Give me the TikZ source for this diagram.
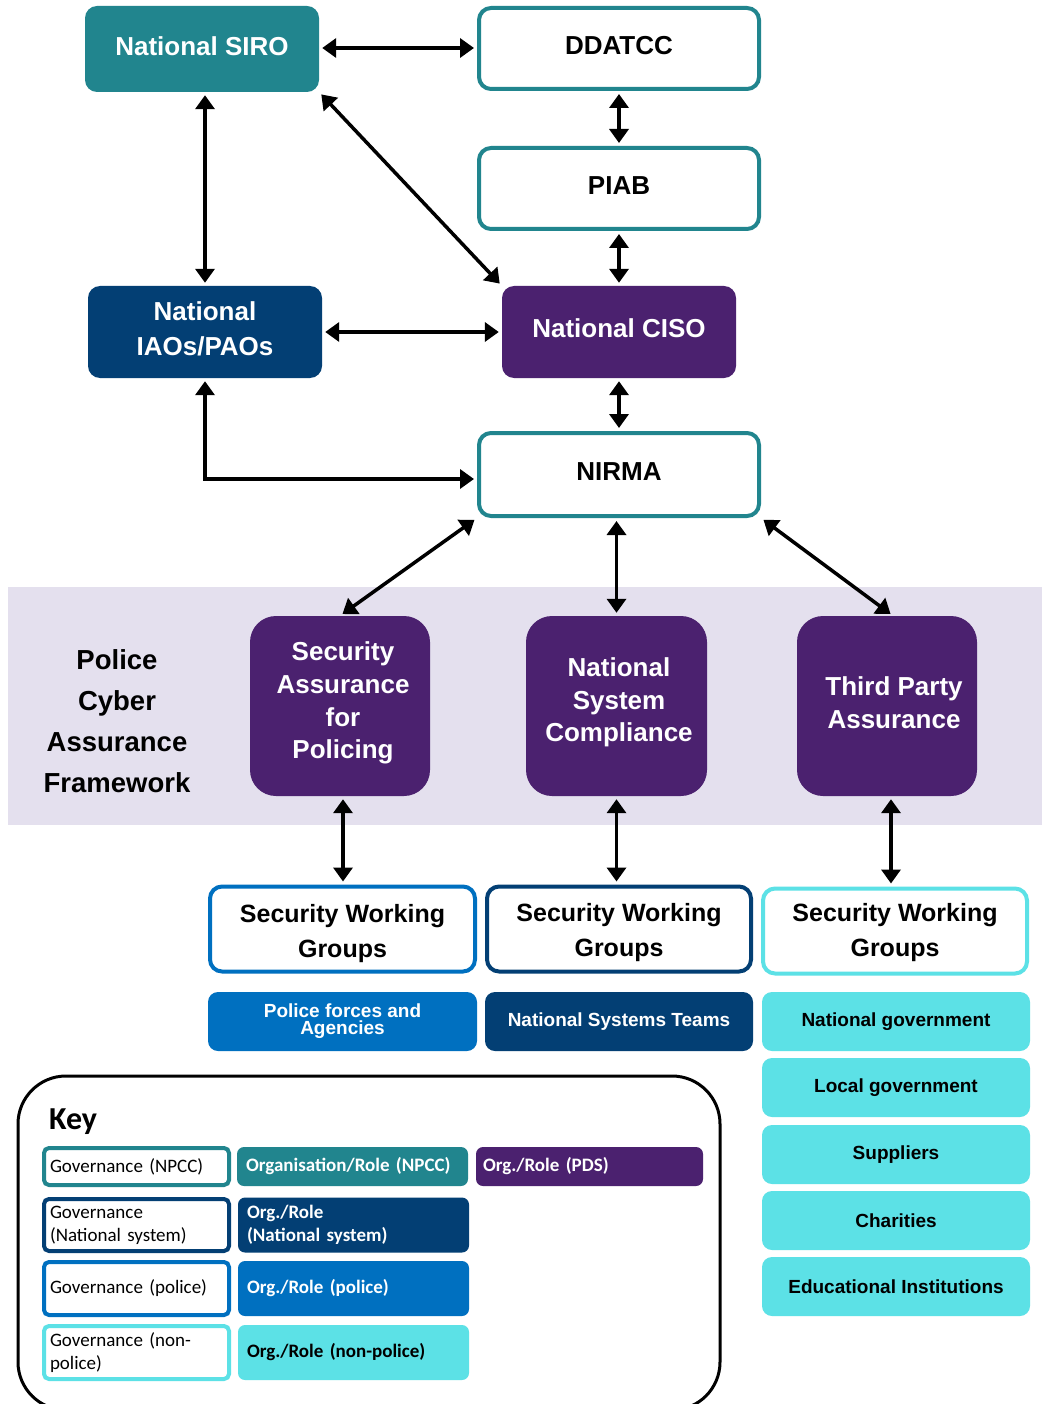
\documentclass[tikz,border=0pt]{standalone}
\usepackage{fontspec}
\setmainfont{Liberation Sans}
\newfontfamily\keyfont{Carlito}
\usetikzlibrary{arrows.meta}
\definecolor{cteal}{HTML}{21858E}
\definecolor{cnavy}{HTML}{033F74}
\definecolor{cpurple}{HTML}{4B216F}
\definecolor{cblue}{HTML}{0070C0}
\definecolor{ccyan}{HTML}{5CE1E6}
\definecolor{clav}{HTML}{E4E0EE}
\tikzset{
  x=1pt, y=-1pt,
  box/.style={rounded corners=12pt, inner sep=0pt},
  govbox/.style={box, draw=#1, line width=4pt, fill=white},
  orgbox/.style={box, fill=#1},
  txt/.style={align=center, inner sep=0pt, text=#1, font=\bfseries\fontsize{26}{35}\selectfont},
  bigbox/.style={box, rounded corners=26pt, fill=cpurple,
    minimum width=180pt, minimum height=180pt},
  bigtxt/.style={align=center, inner sep=0pt, text=white, font=\bfseries\fontsize{26}{32.7}\selectfont},
  swgtxt/.style={align=center, inner sep=0pt, text=black, font=\bfseries\fontsize{25}{35}\selectfont},
  smallbox/.style={box, rounded corners=10pt, fill=#1, minimum width=268pt, minimum height=59pt,
    align=center, font=\bfseries\fontsize{19}{17}\selectfont},
  keygov/.style={rounded corners=5pt, draw=#1, line width=4pt, fill=white, inner sep=0pt,
    minimum width=185pt, align=left, text width=173pt,
    font=\keyfont\fontsize{19}{23}\selectfont},
  keyorg/.style={rounded corners=7pt, fill=#1, text=white, inner sep=0pt,
    minimum width=231pt, align=left, text width=213pt,
    font=\keyfont\bfseries\fontsize{19}{23}\selectfont},
  dbl/.style={line width=3.5pt, {Triangle[length=14pt,width=19pt]}-{Triangle[length=14pt,width=19pt]},
    shorten <=3pt, shorten >=3pt}
}
\begin{document}
\begin{tikzpicture}
\clip (0,0) rectangle (1042,1404);
\useasboundingbox (0,0) rectangle (1042,1404);
\fill[white] (0,0) rectangle (1042,1404);
% band
\fill[clav] (8,587) rectangle (1042,825);
% top nodes
\node[orgbox=cteal, minimum width=234pt, minimum height=86pt] (siro) at (202,49) {};
\node[txt=white] (sirot) at (202,46) {National SIRO};
\node[govbox=cteal, minimum width=280pt, minimum height=81pt] (ddatcc) at (619,48.5) {};
\node[txt=black] (ddatcct) at (619,46) {DDATCC};
\node[govbox=cteal, minimum width=280pt, minimum height=81pt] (piab) at (619,188.5) {};
\node[txt=black] (piabt) at (619,186) {PIAB};
\node[orgbox=cnavy, minimum width=234pt, minimum height=92pt] (iaos) at (205,332) {};
\node[txt=white] (iaost) at (205,329) {National\\IAOs/PAOs};
\node[orgbox=cpurple, minimum width=234pt, minimum height=92pt] (ciso) at (619,332) {};
\node[txt=white] (cisot) at (619,328.5) {National CISO};
\node[govbox=cteal, minimum width=280pt, minimum height=83pt] (nirma) at (619,474.5) {};
\node[txt=black] (nirmat) at (619,471.5) {NIRMA};
% framework label
\node[align=center, inner sep=0pt, font=\bfseries\fontsize{27.5}{41}\selectfont] (pcaf) at (117,721) {Police\\Cyber\\Assurance\\Framework};
% big purple boxes
\node[bigbox] (sap) at (340,706) {};
\node[bigtxt] (sapt) at (343,703) {Security\\Assurance\\for\\Policing};
\node[bigbox, minimum width=181pt] (nsc) at (616.5,706) {};
\node[bigtxt] (nsct) at (619,702.5) {National\\System\\Compliance};
\node[bigbox] (tpa) at (887,706) {};
\node[bigtxt] (tpat) at (894,702.5) {Third Party\\Assurance};
% security working groups
\node[govbox=cblue, minimum width=265pt, minimum height=85pt] (swg1) at (342.5,929) {};
\node[swgtxt] (swg1t) at (342.5,934) {Security Working\\Groups};
\node[govbox=cnavy, minimum width=264pt, minimum height=85pt] (swg2) at (619,929) {};
\node[swgtxt] (swg2t) at (619,933) {Security Working\\Groups};
\node[govbox=ccyan, minimum width=264pt, minimum height=85pt] (swg3) at (895,931) {};
\node[swgtxt] (swg3t) at (895,933) {Security Working\\Groups};
% small boxes
\node[smallbox=cblue, text=white, minimum width=269pt] (pfa) at (342.5,1021.5) {Police forces and\\Agencies};
\node[smallbox=cnavy, text=white] (nst) at (619,1021.5) {National Systems Teams};
\node[smallbox=ccyan, text=black] (ng) at (896,1021.5) {National government};
\node[smallbox=ccyan, text=black] (lg) at (896,1087.5) {Local government};
\node[smallbox=ccyan, text=black] (sup) at (896,1154.5) {Suppliers};
\node[smallbox=ccyan, text=black] (cha) at (896,1220.5) {Charities};
\node[smallbox=ccyan, text=black] (edu) at (896,1286.5) {Educational Institutions};
% key
\draw[line width=3pt, rounded corners=48pt] (18,1076) rectangle (720,1410);
\node[anchor=west, inner sep=0pt, font=\keyfont\bfseries\fontsize{32}{36}\selectfont] (keytitle) at (49,1122) {Key};
\node[keygov=cteal, minimum height=37pt] (k1) at (136.5,1166.5) {Governance (NPCC)};
\node[keyorg=cteal, minimum height=39pt] (k2) at (352.5,1166.5) {Organisation/Role (NPCC)};
\node[keyorg=cpurple, minimum height=39pt, minimum width=227pt] (k3) at (589.5,1166.5) {Org./Role (PDS)};
\node[keygov=cnavy, minimum height=52pt] (k4) at (136.5,1225) {Governance\\(National system)};
\node[keyorg=cnavy, minimum height=55pt] (k5) at (353.5,1225) {Org./Role\\(National system)};
\node[keygov=cblue, minimum height=53pt] (k6) at (136.5,1288.5) {Governance (police)};
\node[keyorg=cblue, minimum height=55pt] (k7) at (353.5,1288.5) {Org./Role (police)};
\node[keygov=ccyan, minimum height=53pt] (k8) at (136.5,1352.5) {Governance (non-\\police)};
\node[keyorg=ccyan, minimum height=55pt, text=black] (k9) at (353.5,1352.5) {Org./Role (non-police)};
% arrows
\draw[dbl] (siro.east |- 0,48) -- (ddatcc.west |- 0,48);
\draw[dbl] (iaos.north) -- (iaos.north |- siro.south);
\draw[dbl] (siro.south east) -- (ciso.north west);
\draw[dbl] (ddatcc.south) -- (piab.north);
\draw[dbl] (piab.south) -- (ciso.north);
\draw[dbl] (iaos.east) -- (ciso.west);
\draw[dbl] (ciso.south) -- (nirma.north);
\draw[dbl] (iaos.south) |- (nirma.west |- 0,479);
\draw[dbl] (nirma.south west) -- (sap.north);
\draw[dbl] (nsc.north) -- (nsc.north |- nirma.south);
\draw[dbl] (nirma.south east) -- ([xshift=6pt]tpa.north);
\draw[dbl] ([xshift=3pt]sap.south) -- ([xshift=3pt]sap.south |- swg1.north);
\draw[dbl] (nsc.south) -- (nsc.south |- swg2.north);
\draw[dbl] ([xshift=4pt]tpa.south) -- ([xshift=4pt]tpa.south |- swg3.north);
\end{tikzpicture}
\end{document}
